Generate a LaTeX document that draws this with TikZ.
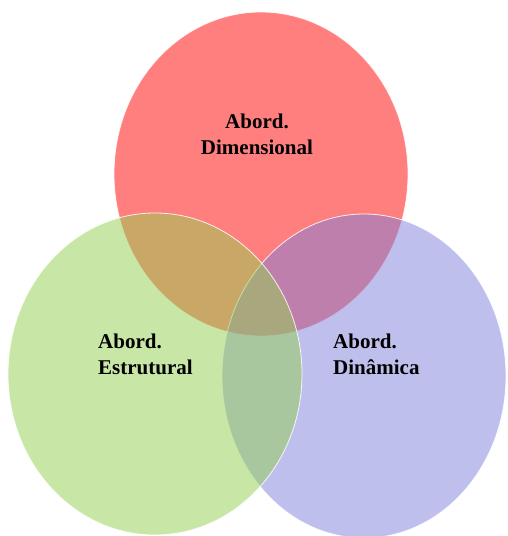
\documentclass[tikz,border=0pt]{standalone}
\usepackage{fontspec}
\setmainfont{Liberation Serif}
\usepackage{tikz}

\definecolor{dimred}{RGB}{255,0,0}
\definecolor{dynblue}{RGB}{128,128,220}
\definecolor{estgreen}{RGB}{146,208,80}

\begin{document}
\begin{tikzpicture}[x=1pt,y=-1pt,
    blob/.style={draw=white,line width=.8pt,fill opacity=.5,draw opacity=.85},
    lbl/.style={inner sep=0pt,font=\fontsize{21}{25.5}\selectfont\bfseries}]
  \useasboundingbox (0,0) rectangle (507,536);
  \filldraw[blob,fill=dimred] (261,174) ellipse [x radius=147,y radius=162];
  \filldraw[blob,fill=dynblue] (364,376) ellipse [x radius=142,y radius=162];
  \filldraw[blob,fill=estgreen] (155,374) ellipse [x radius=147,y radius=161];

  \node[lbl,align=center,anchor=north] (dim) at (257,114) {Abord.\\Dimensional};
  \node[lbl,align=left,anchor=north west] (est) at (98,334) {Abord.\\Estrutural};
  \node[lbl,align=left,anchor=north west] (din) at (333,334) {Abord.\\Dinâmica};
\end{tikzpicture}
\end{document}
